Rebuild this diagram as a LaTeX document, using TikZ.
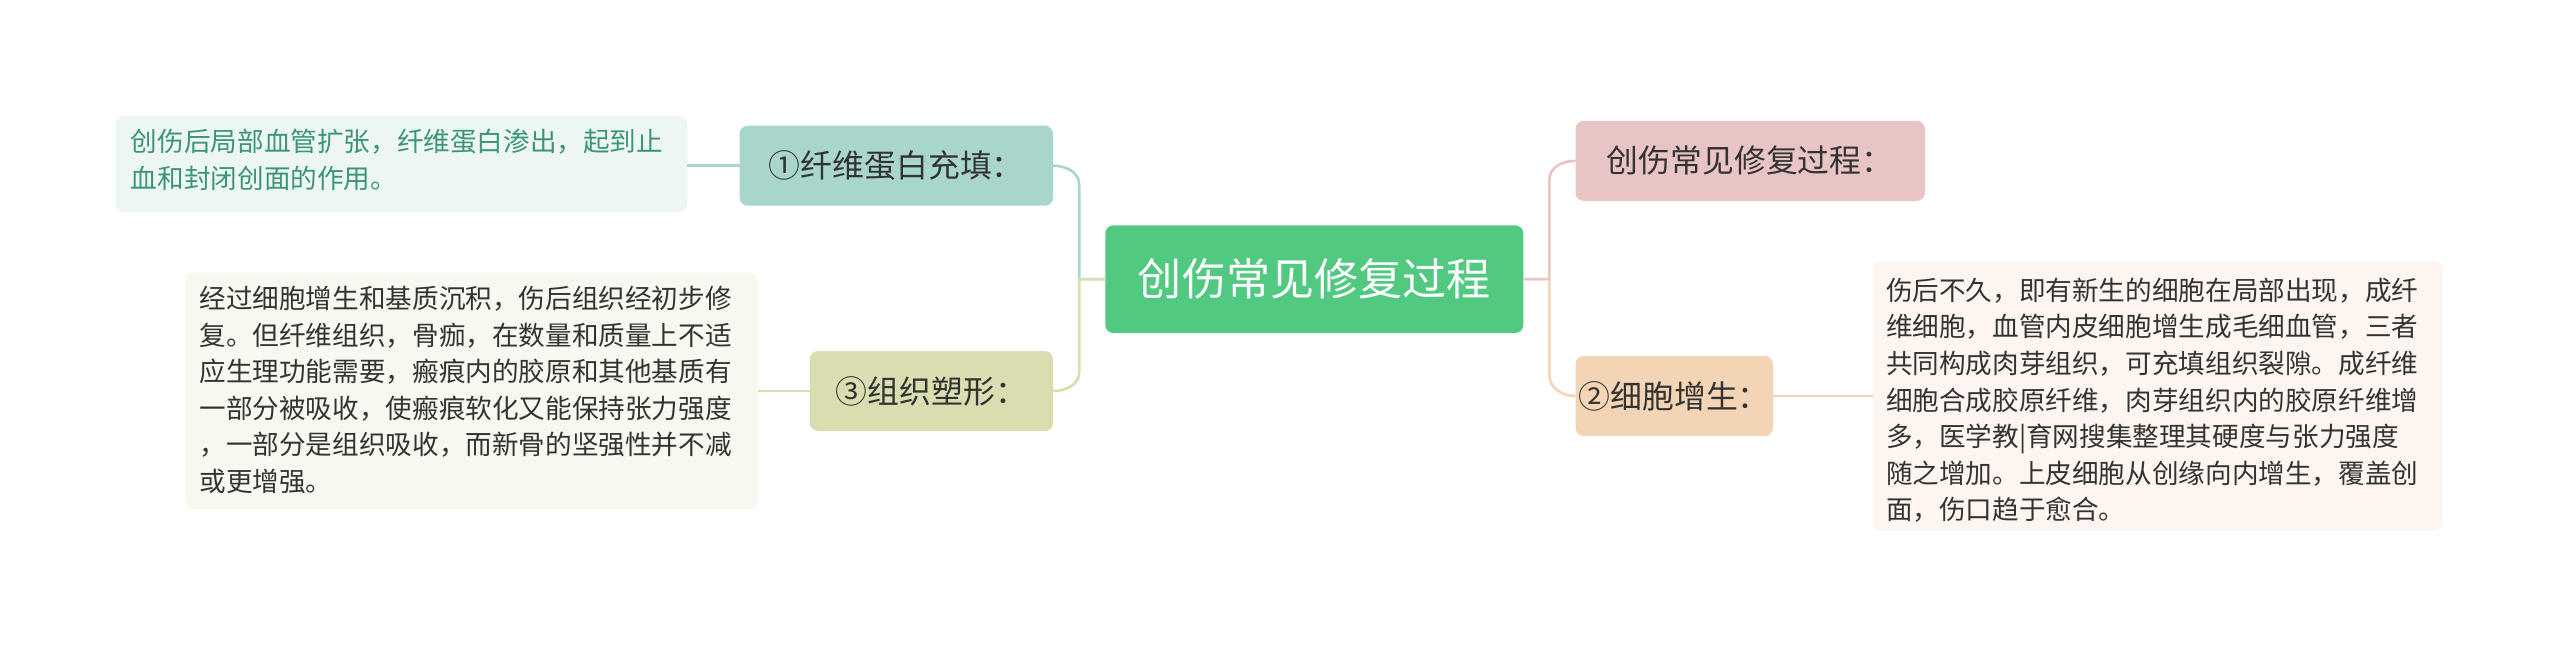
\documentclass[tikz,border=0pt]{standalone}
\usepackage{fontspec}
\setmainfont{Noto Sans CJK SC}
\begin{document}
\begin{tikzpicture}[x=1pt,y=-1pt,
 box/.style={rounded corners=5pt,inner sep=0pt,anchor=north west},
 txt/.style={font=\fontsize{16.3}{22.4}\selectfont,align=left,text=black!80,anchor=north west,inner sep=0pt},
 lnk/.style={line width=1.6pt}]
\useasboundingbox (0,0) rectangle (1568,397);
% center
\fill[box,fill=green!55!teal!70!white,fill={rgb,255:red,82;green,201;blue,128}] (677,138) rectangle (933,204);
\node (c) at (805,171) {\fontsize{27}{30}\selectfont\color{white}创伤常见修复过程};
\coordinate (cl) at (677,171); \coordinate (cr) at (933,171);
% right top
\fill[box,fill={rgb,255:red,232;green,196;blue,196}] (965,74) rectangle (1179,123);
\node (rt) at (1072,98.5) {\fontsize{19.5}{22}\selectfont\color{black!80}创伤常见修复过程：};
\coordinate (rtl) at (965,98.5);
% right bottom
\fill[box,fill={rgb,255:red,243;green,213;blue,181}] (965,218) rectangle (1086,267);
\node (rb) at (1025.5,242.5) {\fontsize{19.5}{22}\selectfont\color{black!80}②细胞增生：};
\coordinate (rbl) at (965,242.5); \coordinate (rbr) at (1086,242.5);
\fill[box,fill={rgb,255:red,253;green,246;blue,240}] (1147,160) rectangle (1496,325);
\coordinate (rtx) at (1147,242.5);
\node[txt] (rtext) at (1155,170) {伤后不久，即有新生的细胞在局部出现，成纤\\维细胞，血管内皮细胞增生成毛细血管，三者\\共同构成肉芽组织，可充填组织裂隙。成纤维\\细胞合成胶原纤维，肉芽组织内的胶原纤维增\\多，医学教|育网搜集整理其硬度与张力强度\\随之增加。上皮细胞从创缘向内增生，覆盖创\\面，伤口趋于愈合。};
% left top
\fill[box,fill={rgb,255:red,168;green,213;blue,204}] (453,77) rectangle (645,126);
\node (lt) at (549,101.5) {\fontsize{19.5}{22}\selectfont\color{black!80}①纤维蛋白充填：};
\coordinate (ltr) at (645,101.5); \coordinate (ltl) at (453,101.5);
\fill[box,fill={rgb,255:red,238;green,246;blue,243}] (71,71) rectangle (421,130);
\coordinate (ltx) at (421,101.5);
\node[txt,text={rgb,255:red,58;green,150;blue,118}] (lttext) at (80,79) {创伤后局部血管扩张，纤维蛋白渗出，起到止\\血和封闭创面的作用。};
% left bottom
\fill[box,fill={rgb,255:red,218;green,221;blue,176}] (496,215) rectangle (645,264);
\node (lb) at (570.5,239.5) {\fontsize{19.5}{22}\selectfont\color{black!80}③组织塑形：};
\coordinate (lbr) at (645,239.5); \coordinate (lbl) at (496,239.5);
\fill[box,fill={rgb,255:red,247;green,248;blue,240}] (114,167) rectangle (464,312);
\coordinate (lbx) at (464,239.5);
\node[txt] (lbtext) at (122,175) {经过细胞增生和基质沉积，伤后组织经初步修\\复。但纤维组织，骨痂，在数量和质量上不适\\应生理功能需要，瘢痕内的胶原和其他基质有\\一部分被吸收，使瘢痕软化又能保持张力强度\\，一部分是组织吸收，而新骨的坚强性并不减\\或更增强。};
% connectors
\draw[lnk,color={rgb,255:red,168;green,213;blue,204}] (cl) -- (661,171) -- (661,113) to[out=90,in=0] (ltr);
\draw[lnk,color={rgb,255:red,218;green,221;blue,176}] (cl) -- (661,171) -- (661,228) to[out=-90,in=0] (lbr);
\draw[lnk,color={rgb,255:red,243;green,213;blue,181}] (cr) -- (949,171) -- (949,230) to[out=-90,in=180] (rbl);
\draw[lnk,color={rgb,255:red,232;green,196;blue,196}] (cr) -- (949,171) -- (949,110) to[out=90,in=180] (rtl);
\draw[lnk,color={rgb,255:red,168;green,213;blue,204}] (ltl) -- (ltx);
\draw[lnk,color={rgb,255:red,218;green,221;blue,176}] (lbl) -- (lbx);
\draw[lnk,color={rgb,255:red,243;green,213;blue,181}] (rbr) -- (rtx);
\end{tikzpicture}
\end{document}
